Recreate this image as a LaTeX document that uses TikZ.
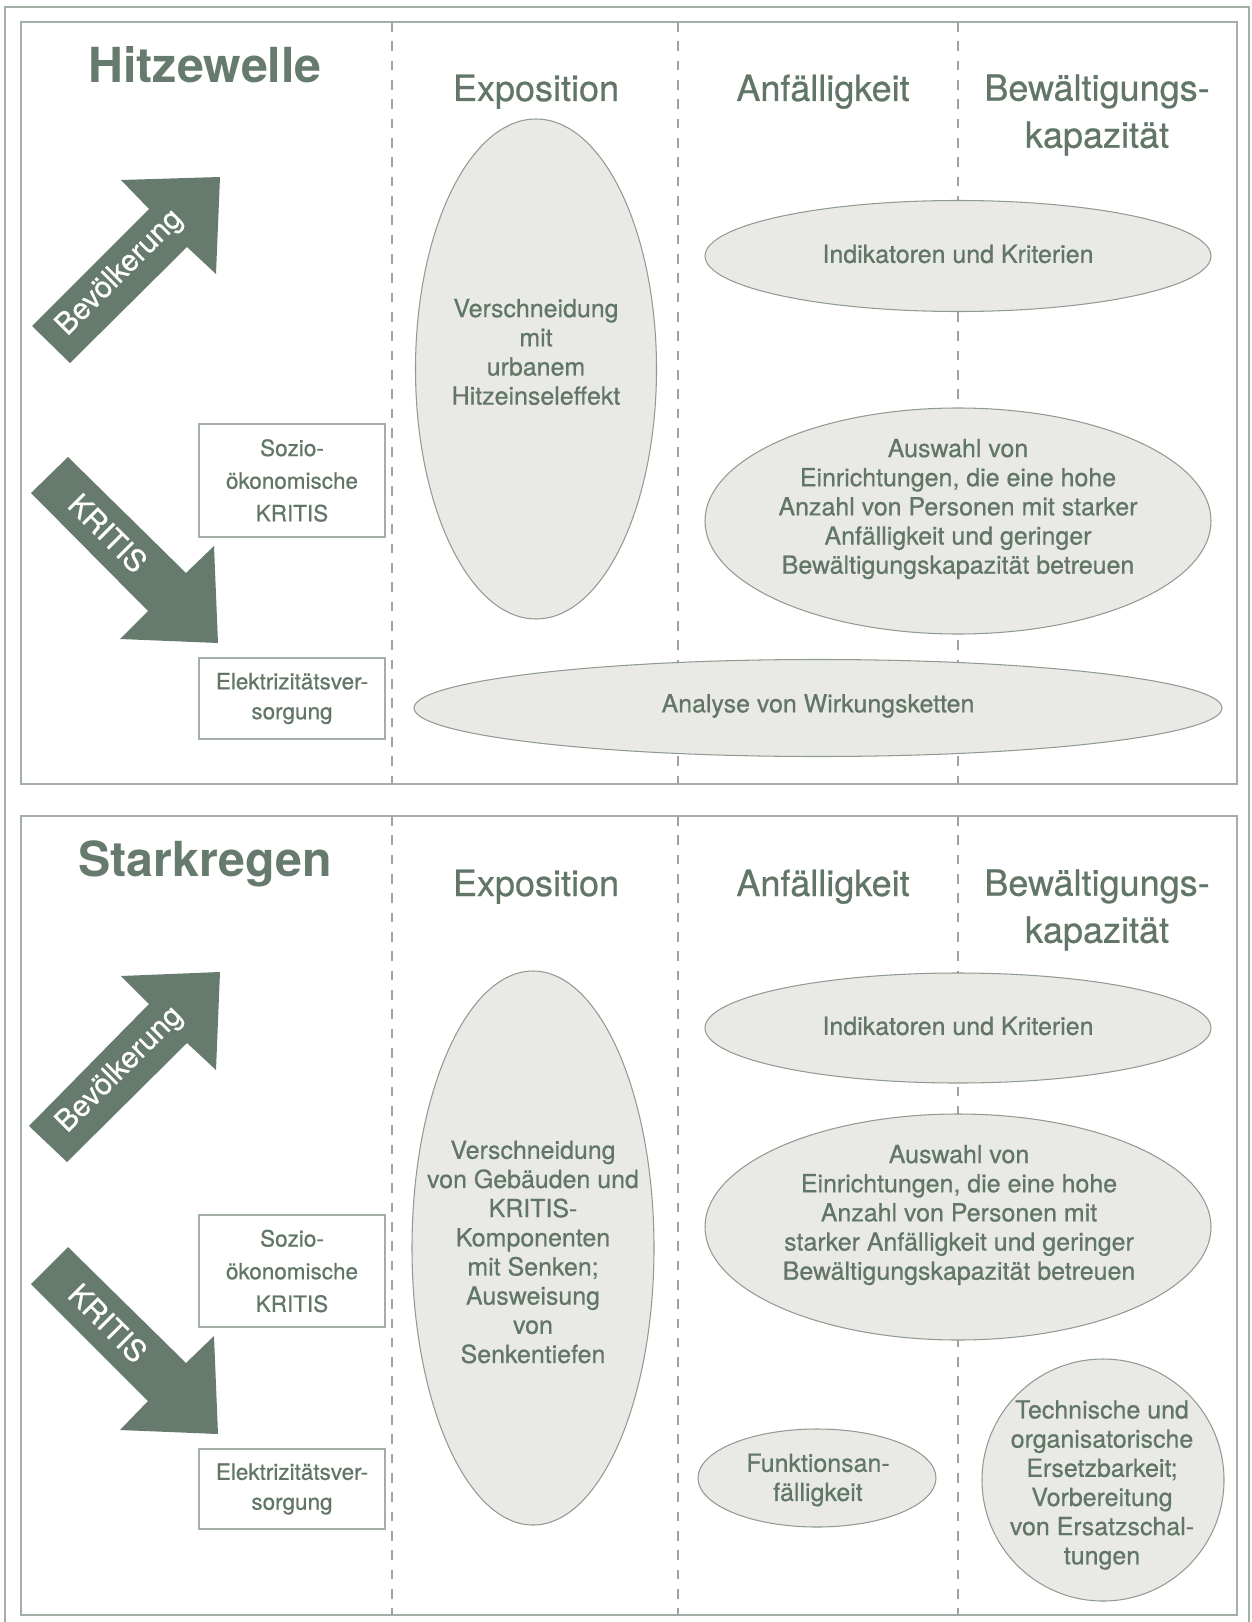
\documentclass[tikz,border=0pt]{standalone}
\usepackage{tikz}
\usepackage{fontspec}
\setmainfont{TeX Gyre Heros}
\newfontfamily\medfont{TeX Gyre Heros}[FakeBold=0.6]
\definecolor{moss}{HTML}{667B6D}
\definecolor{mosstext}{HTML}{617667}
\definecolor{framegray}{HTML}{A3AFA5}
\definecolor{blobfill}{HTML}{E9E9E6}
\definecolor{blobline}{HTML}{8F9C91}
\definecolor{dashgray}{HTML}{A2A2A2}

\begin{document}
\begin{tikzpicture}[x=0.02cm,y=-0.02cm,
	panel/.style={draw=framegray,line width=1.2pt},
	colline/.style={draw=dashgray,line width=1.1pt,dash pattern=on 5.5pt off 5.5pt},
	blob/.style={draw=blobline,fill=blobfill,line width=0.6pt},
	etxt/.style={text=mosstext,align=center,font=\medfont\fontsize{14.2}{16.6}\selectfont},
	head/.style={text=mosstext,align=center,font=\medfont\fontsize{20.5}{26.8}\selectfont},
	titletxt/.style={text=moss,font=\fontsize{27.5}{30}\selectfont\bfseries},
	boxtxt/.style={draw=framegray,line width=0.8pt,fill=white,text=mosstext,align=center,minimum width=3.72cm,inner sep=0pt},
	arrowtxt/.style={text=white,font=\medfont\fontsize{17}{20}\selectfont}]
	\useasboundingbox (0,0) rectangle (1251,1622);
	% outer frame and panels
	\draw[framegray,line width=1pt] (5,1640) -- (5,7) -- (1249,7) -- (1249,1640);
	\draw[panel] (21,22) rectangle (1237,784);
	\draw[panel] (21,816) rectangle (1237,1615);
	\draw[colline] (392,22) -- (392,784);
	\draw[colline] (678,22) -- (678,784);
	\draw[colline] (958,22) -- (958,784);
	\draw[colline] (392,816) -- (392,1615);
	\draw[colline] (678,816) -- (678,1615);
	\draw[colline] (958,816) -- (958,1615);

	% Hitzewelle
	\node[titletxt,anchor=base] (hitze) at (205,83) {Hitzewelle};
	\node[head,anchor=base] (expoH1) at (536,101) {Exposition};
	\node[head,anchor=base] (anfH1) at (823,101) {Anfälligkeit};
	\node[head] (bewH1) at (1097,115) {Bewältigungs-\\kapazität};
	\fill[moss] (32,326) -- (149,209) -- (121,180) -- (220,177) -- (216,274) -- (187,247) -- (70,363) -- cycle;
	\node[arrowtxt,rotate=45] (bev1) at (120,273) {Bevölkerung};
	\fill[moss] (68,457) -- (31,493) -- (148,611) -- (120,639) -- (218,643) -- (214,546) -- (186,573) -- cycle;
	\node[arrowtxt,rotate=-45] (krit1) at (108,533) {KRITIS};
	\node[boxtxt,minimum height=2.26cm,font=\medfont\fontsize{12.8}{18.6}\selectfont] (sozio1) at (292,480.5) {Sozio-\\ökonomische\\KRITIS};
	\node[boxtxt,minimum height=1.62cm,font=\medfont\fontsize{12.8}{17}\selectfont] (strom1) at (292,698.5) {Elektrizitätsver-\\sorgung};
	\draw[blob] (536,369) ellipse [x radius=120.5, y radius=250];
	\node[etxt] (expo1) at (536,352) {Verschneidung\\mit\\urbanem\\Hitzeinseleffekt};
	\draw[blob] (958,256) ellipse [x radius=253, y radius=55.5];
	\node[etxt] (ind1) at (958,254) {Indikatoren und Kriterien};
	\draw[blob] (958,521) ellipse [x radius=253, y radius=113];
	\node[etxt] (aus1) at (958,509) {Auswahl von\\Einrichtungen, die eine hohe\\Anzahl von Personen mit starker\\Anfälligkeit und geringer\\Bewältigungskapazität betreuen};
	\draw[blob] (818,708) ellipse [x radius=404, y radius=48.5];
	\node[etxt] (ana1) at (818,706) {Analyse von Wirkungsketten};

	% Starkregen
	\node[titletxt,anchor=base] (stark) at (205,876) {Starkregen};
	\node[head,anchor=base] (expoH2) at (536,896) {Exposition};
	\node[head,anchor=base] (anfH2) at (823,896) {Anfälligkeit};
	\node[head] (bewH2) at (1097,910) {Bewältigungs-\\kapazität};
	\fill[moss] (29,1126) -- (149,1004) -- (121,976) -- (220,972) -- (216,1070) -- (187,1043) -- (67,1162) -- cycle;
	\node[arrowtxt,rotate=45] (bev2) at (120,1070) {Bevölkerung};
	\fill[moss] (68,1247) -- (31,1284) -- (148,1401) -- (120,1430) -- (218,1434) -- (214,1336) -- (186,1363) -- cycle;
	\node[arrowtxt,rotate=-45] (krit2) at (108,1323) {KRITIS};
	\node[boxtxt,minimum height=2.24cm,font=\medfont\fontsize{12.8}{18.6}\selectfont] (sozio2) at (292,1271) {Sozio-\\ökonomische\\KRITIS};
	\node[boxtxt,minimum height=1.6cm,font=\medfont\fontsize{12.8}{17}\selectfont] (strom2) at (292,1489) {Elektrizitätsver-\\sorgung};
	\draw[blob] (533,1248) ellipse [x radius=121, y radius=277];
	\node[etxt] (expo2) at (533,1252) {Verschneidung\\von Gebäuden und\\KRITIS-\\Komponenten\\mit Senken;\\Ausweisung\\von\\Senkentiefen};
	\draw[blob] (958,1028) ellipse [x radius=253, y radius=55];
	\node[etxt] (ind2) at (958,1026) {Indikatoren und Kriterien};
	\draw[blob] (958,1227) ellipse [x radius=253, y radius=113];
	\node[etxt] (aus2) at (959,1215) {Auswahl von\\Einrichtungen, die eine hohe\\Anzahl von Personen mit\\starker Anfälligkeit und geringer\\Bewältigungskapazität betreuen};
	\draw[blob] (817,1478) ellipse [x radius=119, y radius=49];
	\node[etxt] (funk) at (818,1480) {Funktionsan-\\fälligkeit};
	\draw[blob] (1103,1480) ellipse [x radius=121, y radius=121];
	\node[etxt] (ersatz) at (1102,1485) {Technische und\\organisatorische\\Ersetzbarkeit;\\Vorbereitung\\von Ersatzschal-\\tungen};
\end{tikzpicture}
\end{document}
